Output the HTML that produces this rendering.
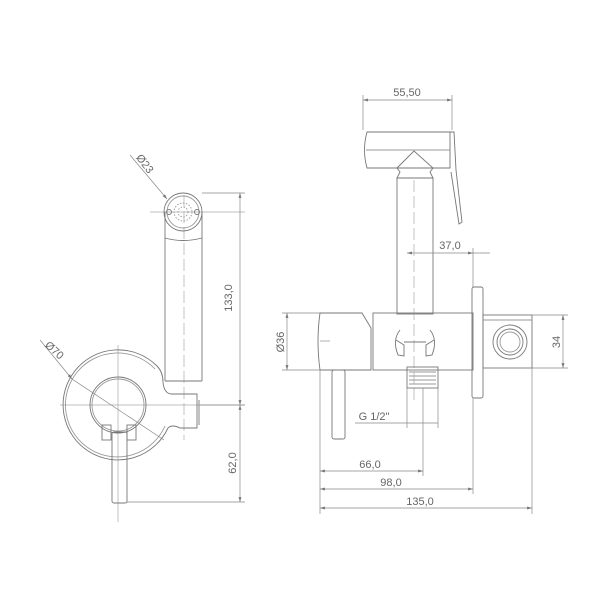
<!DOCTYPE html>
<html><head><style>
html,body{margin:0;padding:0;background:#fff;}
svg{display:block;}
text{font-family:"Liberation Sans",sans-serif;font-size:11px;fill:#666;}
</style></head><body>
<svg width="600" height="600" viewBox="0 0 600 600" xmlns="http://www.w3.org/2000/svg">
<defs>
<marker id="a" viewBox="0 0 10 10" refX="10" refY="5" markerWidth="7" markerHeight="7" orient="auto-start-reverse"><path d="M0,2 L10,5 L0,8 z" fill="#777"/></marker>
</defs>
<g fill="none" stroke="#777" stroke-width="0.9">
<g stroke="#aaa" stroke-width="0.7">
<line x1="60" y1="405" x2="245" y2="405"/>
<line x1="118" y1="345" x2="118" y2="522"/>
<line x1="184" y1="195" x2="184" y2="440" stroke-dasharray="12,4"/>
<line x1="150" y1="212" x2="245" y2="212"/>
</g>
<path d="M157,366 A55,55 0 1 0 168,428"/>
<path d="M155,369 A52,52 0 1 0 165,426" stroke="#999"/>
<circle cx="118" cy="405" r="28"/>
<circle cx="118" cy="405" r="26" stroke="#999"/>
<circle cx="183" cy="212" r="19"/>
<circle cx="183" cy="212" r="16" stroke="#999"/>
<circle cx="169" cy="212" r="2.5"/><circle cx="197" cy="212" r="2.5"/>
<g stroke="#999" stroke-dasharray="1.5,1.5"><circle cx="183" cy="212" r="9"/><circle cx="183" cy="212" r="5"/></g>
<path d="M165,212 L165,238 Q183,243 202,238 L202,212"/>
<line x1="165" y1="238" x2="165" y2="381"/>
<line x1="202" y1="238" x2="202" y2="381"/>
<line x1="165" y1="381" x2="202" y2="381"/>
<path d="M157,366 Q163,372 163,382 Q164,394 172,394 L197,394 L197,428 L180,428 Q172,424 168,428"/>
<line x1="199" y1="400" x2="199" y2="425"/>
<rect x="112" y="432" width="15" height="71" rx="2"/>
<rect x="102" y="425" width="9" height="15"/>
<rect x="127" y="425" width="9" height="15"/>
<g stroke="#888" stroke-width="0.7">
<line x1="202" y1="193" x2="245" y2="193"/>
<line x1="200" y1="405" x2="245" y2="405"/>
<line x1="127" y1="502" x2="245" y2="502"/>
<line x1="240" y1="193" x2="240" y2="405" marker-start="url(#a)" marker-end="url(#a)"/>
<line x1="240" y1="405" x2="240" y2="502" marker-start="url(#a)" marker-end="url(#a)"/>
<line x1="130" y1="155" x2="167" y2="199" marker-end="url(#a)"/>
<line x1="40" y1="340" x2="72" y2="379" marker-end="url(#a)"/>
<line x1="72" y1="379" x2="164" y2="440"/>
</g>
<path d="M367,132 L450,132 L450,168 L367,168 Q362,150 367,132 Z"/>
<line x1="366" y1="150" x2="450" y2="150" stroke="#999"/>
<path d="M450,132 L454,132 L456,170 L462,222 L459,224 L451,172"/>
<path d="M397,168 L414,151 L433,168 L430,172 L433,178 L397,178 L400,172 Z"/>
<rect x="397" y="178" width="36" height="136"/>
<line x1="414" y1="180" x2="414" y2="400" stroke="#aaa" stroke-dasharray="12,4" stroke-width="0.7"/>
<path d="M320,313 L362,313 L371,328 L371,370 L320,370 Q316,341 320,313 Z"/>
<rect x="373" y="313" width="100" height="57"/>
<line x1="320" y1="341" x2="330" y2="341" stroke="#aaa"/>
<path d="M400,330 Q392,340 398,355 L404,356 L404,345 L396,340"/>
<path d="M430,330 Q438,340 432,355 L426,356 L426,345 L434,340"/>
<line x1="404" y1="342" x2="426" y2="342"/>
<rect x="332" y="370" width="13" height="69" rx="2"/>
<rect x="407" y="367" width="31" height="21"/>
<g stroke="#999"><line x1="409" y1="372" x2="436" y2="372"/><line x1="409" y1="376" x2="436" y2="376"/><line x1="409" y1="380" x2="436" y2="380"/><line x1="409" y1="384" x2="436" y2="384"/></g>
<rect x="472" y="287" width="11" height="111" rx="2"/>
<rect x="483" y="315" width="49" height="53"/>
<line x1="483" y1="320" x2="532" y2="320" stroke="#999"/>
<circle cx="510" cy="342" r="17"/>
<circle cx="510" cy="342" r="13"/>
<circle cx="510" cy="342" r="10" stroke="#999"/>
<g stroke="#888" stroke-width="0.7">
<line x1="363" y1="95" x2="363" y2="130"/>
<line x1="452" y1="95" x2="452" y2="130"/>
<line x1="363" y1="100" x2="452" y2="100" marker-start="url(#a)" marker-end="url(#a)"/>
<line x1="407" y1="253" x2="473" y2="253" marker-start="url(#a)" marker-end="url(#a)"/>
<line x1="473" y1="253" x2="490" y2="253"/>
<line x1="473" y1="248" x2="473" y2="287"/>
<line x1="282" y1="313" x2="320" y2="313"/>
<line x1="282" y1="370" x2="320" y2="370"/>
<line x1="287" y1="313" x2="287" y2="370" marker-start="url(#a)" marker-end="url(#a)"/>
<line x1="532" y1="315" x2="568" y2="315"/>
<line x1="532" y1="368" x2="568" y2="368"/>
<line x1="563" y1="315" x2="563" y2="368" marker-start="url(#a)" marker-end="url(#a)"/>
<line x1="355" y1="423" x2="438" y2="423"/>
<line x1="407" y1="388" x2="407" y2="428"/>
<line x1="438" y1="388" x2="438" y2="428"/>
<line x1="320" y1="370" x2="320" y2="514"/>
<line x1="423" y1="388" x2="423" y2="476"/>
<line x1="473" y1="398" x2="473" y2="494"/>
<line x1="532" y1="368" x2="532" y2="514"/>
<line x1="320" y1="471" x2="423" y2="471" marker-start="url(#a)" marker-end="url(#a)"/>
<line x1="320" y1="489" x2="473" y2="489" marker-start="url(#a)" marker-end="url(#a)"/>
<line x1="320" y1="508" x2="532" y2="508" marker-start="url(#a)" marker-end="url(#a)"/>
</g>
</g>
<text x="232" y="298" transform="rotate(-90 232 298)" text-anchor="middle">133,0</text>
<text x="236" y="463" transform="rotate(-90 236 463)" text-anchor="middle">62,0</text>
<text x="142" y="166" transform="rotate(52 142 166)" text-anchor="middle">Ø23</text>
<text x="52" y="353" transform="rotate(42 52 353)" text-anchor="middle">Ø70</text>
<text x="407" y="96" text-anchor="middle">55,50</text>
<text x="450" y="249" text-anchor="middle">37,0</text>
<text x="284" y="342" transform="rotate(-90 284 342)" text-anchor="middle">Ø36</text>
<text x="560" y="342" transform="rotate(-90 560 342)" text-anchor="middle">34</text>
<text x="374" y="420" text-anchor="middle">G 1/2"</text>
<text x="370" y="468" text-anchor="middle">66,0</text>
<text x="391" y="486" text-anchor="middle">98,0</text>
<text x="420" y="505" text-anchor="middle">135,0</text>
</svg>
</body></html>
